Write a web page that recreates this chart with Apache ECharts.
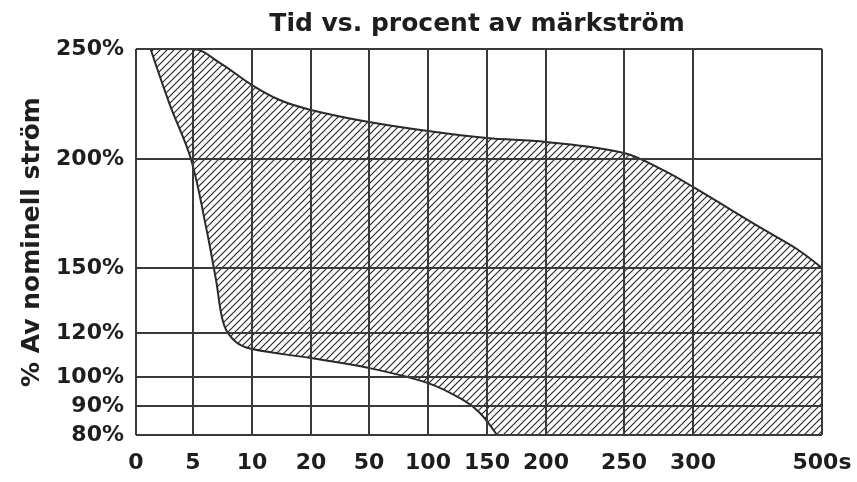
<!DOCTYPE html>
<html><head><meta charset="utf-8">
<script src="https://cdn.jsdelivr.net/npm/echarts@6/dist/echarts.min.js"></script>
<style>html,body{margin:0;padding:0;background:#fff}#c{width:857px;height:482px}</style>
</head><body><div id="c"></div><script>
// Tick values and labels
const xTicks = [0, 5, 10, 20, 50, 100, 150, 200, 250, 300, 500];
const xTickLabels = ['0', '5', '10', '20', '50', '100', '150', '200', '250', '300', '500s'];
const yTicks = [80, 90, 100, 120, 150, 200, 250];
const yTickLabels = ['80%', '90%', '100%', '120%', '150%', '200%', '250%'];

// Upper boundary of the band (time in s, % of rated current)
const upperTime = [1.32, 5, 7.3, 10, 14.7, 20, 50, 100, 150, 200, 250, 278, 300, 408, 461, 500];
const upperPct  = [250, 250, 243.6, 233.6, 226.8, 222.3, 216.8, 212.7, 209.5, 207.7, 202.7, 195, 187.2, 167.9, 158.7, 150];
// Lower boundary of the band
const lowerTime = [1.28, 2.98, 4.82, 6.19, 6.95, 7.63, 8.64, 10, 20, 50, 100, 129.7, 144, 158.5];
const lowerPct  = [250, 224.5, 200, 166.5, 144.5, 123.7, 115.9, 112.7, 108.6, 104.1, 97.9, 92.1, 87.6, 80];

// Non-uniform axis scales (tick value -> axis position)
const xScale = [0, 57, 116, 175, 233, 292, 351, 410, 488, 557, 686];
const yScale = [0, 29, 58, 102, 167, 276, 386];

function interp(v, from, to) {
  if (v <= from[0]) return to[0];
  for (let i = 1; i < from.length; i++) {
    if (v <= from[i]) {
      const t = (v - from[i - 1]) / (from[i] - from[i - 1]);
      return to[i - 1] + t * (to[i] - to[i - 1]);
    }
  }
  return to[to.length - 1];
}
const tx = v => interp(v, xTicks, xScale);
const ty = v => interp(v, yTicks, yScale);

function labelFor(val, ticks, tf, labels) {
  for (let i = 0; i < ticks.length; i++) if (Math.abs(tf(ticks[i]) - val) < 0.01) return labels[i];
  return '';
}

// hatch pattern
const pc = document.createElement('canvas');
pc.width = 7; pc.height = 7;
const g = pc.getContext('2d');
g.fillStyle = '#fff'; g.fillRect(0, 0, 7, 7);
g.strokeStyle = '#2a2a2a'; g.lineWidth = 1.2;
g.beginPath();
g.moveTo(0, 7); g.lineTo(7, 0);
g.moveTo(-1, 1); g.lineTo(1, -1);
g.moveTo(6, 8); g.lineTo(8, 6);
g.stroke();

const FONT = 'DejaVu Sans';
const chart = echarts.init(document.getElementById('c'));
chart.setOption({
  animation: false,
  backgroundColor: '#fff',
  title: {
    text: 'Tid vs. procent av märkström',
    left: 472, top: 7, textAlign: 'center',
    textStyle: { fontFamily: FONT, fontWeight: 'bold', fontSize: 25, color: '#1e1e1e' }
  },
  grid: { left: 136, right: 35, top: 49, bottom: 47 },
  xAxis: {
    type: 'value', min: 0, max: xScale[xScale.length - 1],
    axisLine: { show: false }, axisTick: { show: false }, splitLine: { show: false },
    axisLabel: {
      customValues: xTicks.map(tx), margin: 17,
      fontFamily: FONT, fontWeight: 'bold', fontSize: 22, color: '#1e1e1e',
      formatter: v => labelFor(v, xTicks, tx, xTickLabels)
    }
  },
  yAxis: {
    type: 'value', min: 0, max: yScale[yScale.length - 1],
    name: '% Av nominell ström', nameLocation: 'middle', nameGap: 88,
    nameTextStyle: { fontFamily: FONT, fontWeight: 'bold', fontSize: 25, color: '#1e1e1e' },
    axisLine: { show: false }, axisTick: { show: false }, splitLine: { show: false },
    axisLabel: {
      customValues: yTicks.map(ty), margin: 12, padding: [7, 0, 0, 0],
      fontFamily: FONT, fontWeight: 'bold', fontSize: 22, color: '#1e1e1e',
      formatter: v => labelFor(v, yTicks, ty, yTickLabels)
    }
  },
  series: [
    {
      type: 'line', z: 2, smooth: 0.35, symbol: 'none',
      data: upperTime.map((t, i) => [tx(t), ty(upperPct[i])]),
      lineStyle: { color: '#2a2a2a', width: 2 },
      areaStyle: { color: { image: pc, repeat: 'repeat' }, opacity: 1, origin: 'start' }
    },
    {
      type: 'line', z: 3, smooth: 0.35, symbol: 'none',
      data: lowerTime.map((t, i) => [tx(t), ty(lowerPct[i])]),
      lineStyle: { color: '#2a2a2a', width: 2 },
      areaStyle: { color: '#fff', opacity: 1, origin: 'start' }
    },
    {
      type: 'line', z: 4, symbol: 'none', data: [[0, 0]],
      lineStyle: { opacity: 0 },
      markLine: {
        silent: true, symbol: 'none', animation: false,
        label: { show: false },
        lineStyle: { color: '#3a3a3a', width: 2, type: 'solid' },
        data: xTicks.map(v => ({ xAxis: tx(v) })).concat(yTicks.map(v => ({ yAxis: ty(v) })))
      }
    }
  ]
});
</script></body></html>
